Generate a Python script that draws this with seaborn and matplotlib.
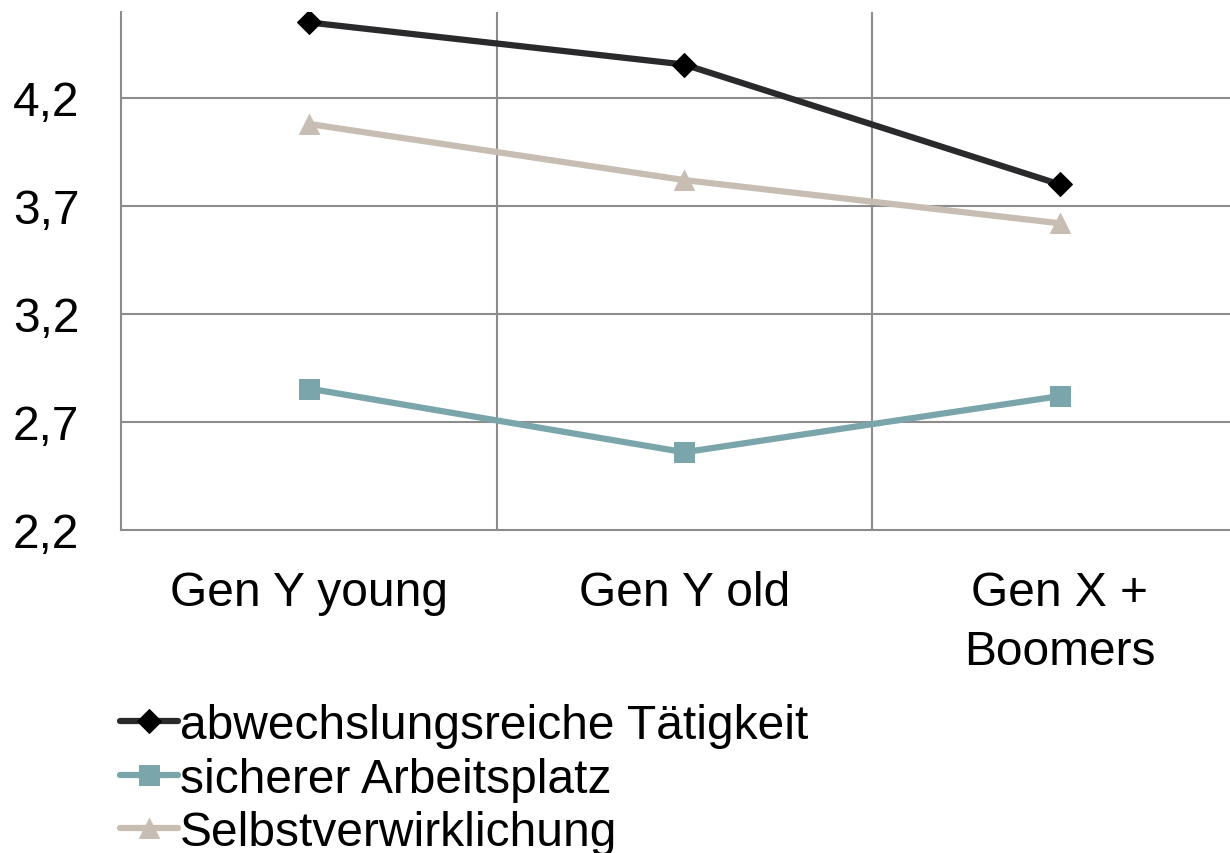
import matplotlib
matplotlib.use("Agg")
import matplotlib.pyplot as plt
import seaborn as sns
import pandas as pd

categories = ["Gen Y young", "Gen Y old", "Gen X +\nBoomers"]
abwechslung = [4.55, 4.355, 3.80]
sicher = [2.855, 2.56, 2.82]
selbst = [4.08, 3.82, 3.62]
series_names = ["abwechslungsreiche Tätigkeit", "sicherer Arbeitsplatz", "Selbstverwirklichung"]
yticks = [2.2, 2.7, 3.2, 3.7, 4.2]
ytick_labels = ["2,2", "2,7", "3,2", "3,7", "4,2"]

sns.set_theme(style="white")
plt.rcParams['font.family'] = ['Liberation Sans', 'DejaVu Sans']

fig = plt.figure(figsize=(12.3, 8.54), dpi=100)
W, H = 1230, 854
ax = fig.add_axes([121 / W, 1 - 531 / H, (1247.5 - 121) / W, (531 - 12.6) / H])

colors = ["#2a2a2d", "#7aa6ab", "#c8bdb2"]
markers = ["D", "s", "^"]
msizes = [12, 14, 15]
mecs = ["#000000", "#7aa6ab", "#c8bdb2"]
values = [abwechslung, sicher, selbst]

for name, vals, c, m, ms, mec in zip(series_names, values, colors, markers, msizes, mecs):
    df = pd.DataFrame({"x": list(range(len(categories))), "y": vals})
    sns.lineplot(data=df, x="x", y="y", ax=ax, color=c, linewidth=4.5,
                 marker=m, markersize=ms, markerfacecolor=mec, markeredgecolor=mec,
                 label=name, sort=False)

ax.set_xlim(-0.5, 2.5)
ax.set_ylim(2.2, 4.6)
ax.set_yticks(yticks)
ax.set_yticklabels(ytick_labels)
ax.set_xticks(range(len(categories)))
ax.set_xticklabels(categories, linespacing=1.4)
ax.set_xlabel("")
ax.set_ylabel("")

grid_c = "#8c8c8c"
for yv in yticks[1:]:
    ax.axhline(yv, color=grid_c, linewidth=1.5, zorder=0)
for xv in [0.5, 1.5, 2.5]:
    ax.axvline(xv, color=grid_c, linewidth=1.5, zorder=0)

for s in ["top", "right"]:
    ax.spines[s].set_visible(False)
for s in ["left", "bottom"]:
    ax.spines[s].set_color(grid_c)
    ax.spines[s].set_linewidth(1.5)

ax.tick_params(axis="both", length=0, labelsize=34.5, colors="black")
ax.tick_params(axis="x", pad=29)
ax.tick_params(axis="y", pad=30)

handles, labels = ax.get_legend_handles_labels()
if ax.legend_:
    ax.legend_.remove()
fig.legend(handles, labels, loc="upper left", bbox_to_anchor=(120 / W, 1 - 704 / H),
           frameon=False, fontsize=34.5, handlelength=1.2, handletextpad=0.05,
           labelspacing=0.18, borderaxespad=0, borderpad=0, labelcolor="black")

fig.savefig("out.png", dpi=100)
